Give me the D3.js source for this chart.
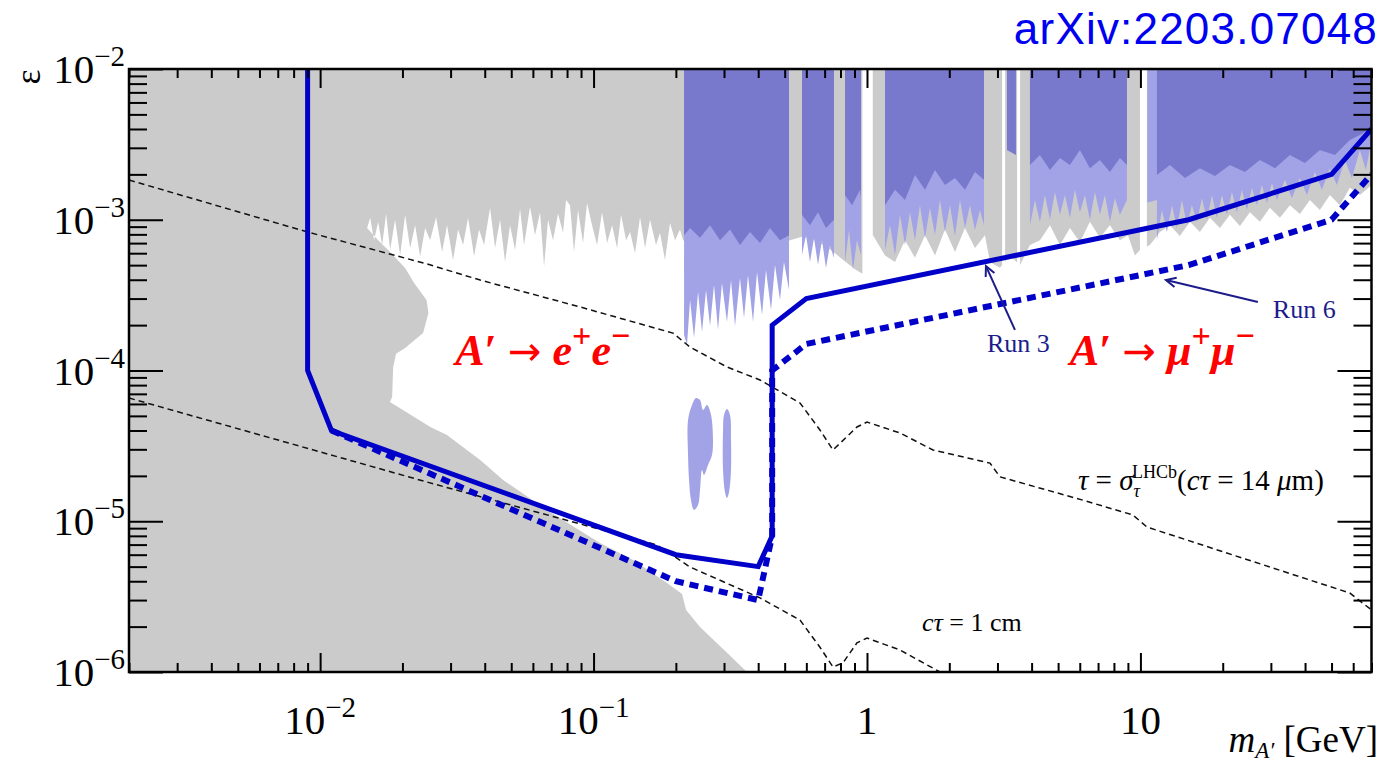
<!DOCTYPE html>
<html>
<head>
<meta charset="utf-8">
<script src="https://cdn.jsdelivr.net/npm/d3@7"></script>
<style>
  html, body { margin: 0; padding: 0; background: #fff; }
  svg { display: block; }
</style>
</head>
<body>
<svg id="chart" width="1385" height="768"></svg>
<script>
// ---------------- data ----------------
const massDomain = [0.002, 70];      // GeV
const epsDomain = [1e-6, 1e-2];

const xMajorTicks = [0.01, 0.1, 1, 10];
const xTickBase = ["10", "10", "1", "10"];
const xTickExp = ["−2", "−1", "", ""];
const yMajorTicks = [1e-2, 1e-3, 1e-4, 1e-5, 1e-6];
const yTickExp = ["−2", "−3", "−4", "−5", "−6"];

// Upper edge of the still-allowed region (below it: unexcluded), left to right
const grayEdge = [
  [0.01485,8.8e-4],[0.01524,1.03e-3],[0.01575,7.3e-4],[0.0163,9.7e-4],[0.01686,6.8e-4],
  [0.01743,1.1e-3],[0.01803,6.3e-4],[0.0188,1.0e-3],[0.01962,5.8e-4],[0.02046,1.08e-3],
  [0.02134,6.5e-4],[0.02226,9.2e-4],[0.02321,5.7e-4],[0.02421,8.8e-4],[0.02525,7.3e-4],
  [0.02655,1.04e-3],[0.02793,6.1e-4],[0.02913,9.2e-4],[0.03063,5.4e-4],[0.03195,8.6e-4],
  [0.03333,6.8e-4],[0.03476,1.03e-3],[0.03656,5.75e-4],[0.03813,8.6e-4],[0.03977,6.8e-4],
  [0.04183,1.2e-3],[0.04363,6.5e-4],[0.0455,1.0e-3],[0.04746,5.25e-4],[0.0495,9.2e-4],
  [0.05164,6.3e-4],[0.05386,1.18e-3],[0.0557,6.8e-4],[0.05858,1.22e-3],[0.0611,7.9e-4],
  [0.06373,1.12e-3],[0.06591,4.9e-4],[0.06816,1.0e-3],[0.07109,7.3e-4],[0.07415,1.1e-3],
  [0.07734,8.2e-4],[0.07932,1.35e-3],[0.08203,1.25e-3],[0.08484,6.1e-4],[0.08774,1.16e-3],
  [0.09152,7.0e-4],[0.09467,1.29e-3],[0.09874,9.2e-4],[0.103,6.8e-4],[0.1074,1.12e-3],
  [0.1121,7.0e-4],[0.1169,9.2e-4],[0.1219,6.5e-4],[0.1261,1.08e-3],[0.1315,7.3e-4],
  [0.136,8.3e-4],[0.1418,6.0e-4],[0.1479,1.04e-3],[0.1543,6.5e-4],[0.1609,1.0e-3],
  [0.1692,6.8e-4],[0.175,8.2e-4],[0.1825,5.4e-4],[0.1904,9.5e-4],[0.1986,7.3e-4],
  [0.2071,8.6e-4],[0.2125,7.3e-4],
  [0.2451,6.8e-4],[0.2901,6.5e-4],[0.3432,7.3e-4],[0.4062,6.3e-4],[0.4806,6.8e-4],
  [0.523,7.3e-4],[0.5785,7.7e-4],
  [0.629,7.45e-4],[0.673,7.0e-4],[0.72,6.5e-4],[0.764,6.0e-4],[0.81,5.5e-4],
  [0.852,5.1e-4],[0.904,4.7e-4],[0.959,4.4e-4],[0.992,4.36e-4],
  [1.052,7.9e-4],[1.164,5.8e-4],[1.266,5.25e-4],[1.377,7.3e-4],[1.498,5.6e-4],
  [1.63,7.9e-4],[1.773,5.8e-4],[1.928,8.6e-4],[2.098,6.1e-4],[2.282,8.8e-4],
  [2.482,6.5e-4],[2.70,7.9e-4],[2.817,5.25e-4],[3.064,4.8e-4],[3.333,5.8e-4],
  [3.625,5.0e-4],[3.945,6.8e-4],[4.291,7.3e-4],[4.668,9.2e-4],[5.077,6.8e-4],
  [5.523,8.8e-4],[6.008,7.1e-4],[6.535,9.7e-4],[7.109,7.6e-4],[7.733,9.2e-4],
  [8.414,7.3e-4],[9.0,7.9e-4],[9.55,5.8e-4],[9.96,6.3e-4],[10.83,6.8e-4],
  [11.79,8.3e-4],[12.82,9.2e-4],[13.94,7.8e-4],[15.17,9.7e-4],[16.5,8.3e-4],
  [17.95,1.03e-3],[19.53,8.8e-4],[21.24,1.08e-3],[23.11,9.1e-4],[25.14,1.12e-3],
  [27.35,9.7e-4],[29.75,1.2e-3],[32.37,1.03e-3],[35.21,1.25e-3],[38.3,1.09e-3],
  [41.66,1.35e-3],[45.33,1.16e-3],[49.31,1.46e-3],[53.63,1.25e-3],[58.34,1.63e-3],
  [63.48,1.46e-3],[70,1.7e-3]
];

// Beam-dump exclusion boundary, from the bottom axis up to the top edge
const beamDumpEdge = [
  [0.3641,1e-6],[0.3076,1.34e-6],[0.2451,1.99e-6],[0.218,2.58e-6],[0.2107,3.29e-6],
  [0.1857,3.9e-6],[0.1395,5.53e-6],[0.1056,7.17e-6],[0.0693,1.15e-5],[0.0467,1.88e-5],
  [0.0385,2.55e-5],[0.0291,3.73e-5],[0.0253,4.22e-5],[0.018,6.18e-5],[0.01834,6.67e-5],
  [0.0185,1.055e-4],[0.01896,1.29e-4],[0.02046,1.41e-4],[0.0238,1.77e-4],[0.0249,2.41e-4],
  [0.0245,2.94e-4],[0.02207,3.8e-4],[0.02046,4.78e-4],[0.01803,6.1e-4],[0.0163,7.3e-4]
];

// Narrow unexcluded mass windows: [mass from, mass to, lowest epsilon]
const whiteGaps = [[0.962, 1.05, 4.0e-4], [3.12, 3.2, 4.5e-4], [3.54, 3.63, 4.5e-4], [9.96, 10.56, 5.5e-4]];

// LHCb dark-photon limits (fluctuating lower edge), light and dark shades
const purpleLightEdge = [
  [0.2143,1e-2],[0.2143,1.72e-4],[0.2197,1.48e-4],[0.2254,2.94e-4],[0.2331,1.64e-4],
  [0.2411,3.32e-4],[0.2493,1.8e-4],[0.2578,3.42e-4],[0.2667,1.97e-4],[0.2757,3.69e-4],
  [0.2852,1.86e-4],[0.2949,3.8e-4],[0.3076,2.1e-4],[0.3182,3.98e-4],[0.3291,1.97e-4],
  [0.3432,4.11e-4],[0.355,2.23e-4],[0.3672,4.3e-4],[0.383,2.1e-4],[0.3961,4.5e-4],
  [0.4131,2.33e-4],[0.4272,4.64e-4],[0.4457,2.52e-4],[0.4609,5.01e-4],[0.4806,2.94e-4],
  [0.497,5.25e-4],[0.5186,3.42e-4],[0.5186,1e-2],
  [0.5785,1e-2],[0.5785,5.83e-4],[0.5984,7.92e-4],[0.6187,5.25e-4],[0.6401,7.57e-4],
  [0.662,5.01e-4],[0.6846,7.34e-4],[0.708,4.78e-4],[0.7323,6.8e-4],[0.757,5.57e-4],[0.757,1e-2],
  [0.8309,1e-2],[0.8309,5.25e-4],[0.8594,8.55e-4],[0.8888,4.64e-4],[0.919,7.34e-4],
  [0.9508,5.83e-4],[0.9508,1e-2],
  [1.164,1e-2],[1.164,6.3e-4],[1.214,9.23e-4],[1.266,5.83e-4],[1.32,1.08e-3],[1.377,6.8e-4],
  [1.436,1.12e-3],[1.498,7.34e-4],[1.562,1.25e-3],[1.63,7.57e-4],[1.699,1.2e-3],
  [1.773,7.92e-4],[1.849,1.35e-3],[1.928,8.29e-4],[2.011,1.25e-3],[2.098,7.8e-4],
  [2.188,1.35e-3],[2.282,8.81e-4],[2.38,1.25e-3],[2.482,8.55e-4],[2.589,1.16e-3],
  [2.678,9.23e-4],[2.678,1e-2],
  [3.945,1e-2],[3.945,9.23e-4],[4.114,1.35e-3],[4.291,9.66e-4],[4.475,1.46e-3],
  [4.668,1.0e-3],[4.868,1.53e-3],[5.077,1.08e-3],[5.296,1.46e-3],[5.523,1.03e-3],
  [5.761,1.58e-3],[6.008,1.12e-3],[6.267,1.46e-3],[6.535,1.0e-3],[6.817,1.53e-3],
  [7.109,1.08e-3],[7.416,1.46e-3],[7.733,9.66e-4],[8.067,1.39e-3],[8.414,1.08e-3],
  [8.925,1.35e-3],[8.925,1e-2],
  [10.6,1e-2],[10.6,1.3e-3],[11.49,1.35e-3],[11.49,7.34e-4],[11.98,1.16e-3],[12.5,8.29e-4],
  [13.04,1.25e-3],[13.6,8.81e-4],[14.18,1.35e-3],[14.79,9.23e-4],[15.43,1.25e-3],
  [16.09,9.66e-4],[16.79,1.39e-3],[17.51,1.0e-3],[18.26,1.46e-3],[19.05,1.03e-3],
  [19.86,1.46e-3],[20.72,1.08e-3],[21.61,1.53e-3],[22.54,1.12e-3],[23.5,1.58e-3],
  [24.51,1.16e-3],[25.57,1.63e-3],[26.67,1.25e-3],[27.81,1.7e-3],[29.01,1.29e-3],
  [30.26,1.75e-3],[31.56,1.35e-3],[33.76,1.84e-3],[35.8,1.39e-3],[38.3,1.89e-3],
  [40.63,1.46e-3],[43.45,2.07e-3],[46.09,1.58e-3],[49.31,2.2e-3],[52.3,1.7e-3],
  [55.94,2.49e-3],[59.34,1.89e-3],[63.48,2.9e-3],[66.77,2.14e-3],[70,3.38e-3],[70,1e-2]
];

const purpleDarkEdge = [
  [0.2143,1e-2],[0.2143,7.9e-4],[0.2254,8.8e-4],[0.2451,7.6e-4],[0.2667,9.2e-4],
  [0.2901,7.3e-4],[0.3155,8.6e-4],[0.3432,6.8e-4],[0.3734,8.3e-4],[0.4062,7.0e-4],
  [0.4418,8.8e-4],[0.4806,7.3e-4],[0.5186,7.9e-4],[0.5186,1e-2],
  [0.5785,1e-2],[0.5785,1.08e-3],[0.6187,9.2e-4],[0.662,1.12e-3],[0.708,8.8e-4],
  [0.757,1.0e-3],[0.757,1e-2],
  [0.8309,1e-2],[0.8309,1.46e-3],[0.882,1.25e-3],[0.943,1.58e-3],[0.9508,1.4e-3],[0.9508,1e-2],
  [1.164,1e-2],[1.164,1.25e-3],[1.266,1.58e-3],[1.377,1.35e-3],[1.498,1.98e-3],
  [1.63,1.58e-3],[1.773,2.14e-3],[1.928,1.7e-3],[2.098,1.89e-3],[2.282,1.58e-3],
  [2.482,2.07e-3],[2.678,1.84e-3],[2.678,1e-2],
  [3.25,1e-2],[3.25,2.9e-3],[3.506,2.69e-3],[3.506,1e-2],
  [3.945,1e-2],[3.945,2.31e-3],[4.291,2.69e-3],[4.668,2.14e-3],[5.077,2.57e-3],
  [5.523,2.31e-3],[6.008,2.9e-3],[6.535,2.2e-3],[7.109,2.49e-3],[7.733,2.07e-3],
  [8.414,2.57e-3],[8.925,2.31e-3],[8.925,1e-2],
  [11.49,1e-2],[11.49,1.98e-3],[12.82,2.31e-3],[14.55,1.89e-3],[16.5,2.2e-3],
  [18.73,1.95e-3],[21.24,2.31e-3],[24.11,2.07e-3],[27.35,2.49e-3],[31.03,2.2e-3],
  [35.21,2.69e-3],[39.95,2.38e-3],[45.33,2.9e-3],[51.42,2.69e-3],[58.34,3.38e-3],
  [63.48,3.65e-3],[70,4.06e-3],[70,1e-2]
];

// Isolated LHCb excluded islands
const islandA = [
  [0.2216,4.69e-5],[0.2291,5.9e-5],[0.237,6.57e-5],[0.2451,6.37e-5],[0.2514,5.47e-5],
  [0.26,5.9e-5],[0.2689,5.07e-5],[0.2734,3.46e-5],[0.2711,2.75e-5],[0.2622,2.36e-5],
  [0.2535,2.03e-5],[0.2492,2.19e-5],[0.2451,1.61e-5],[0.241,1.28e-5],[0.233,1.19e-5],
  [0.2272,1.38e-5],[0.2235,1.88e-5],[0.2216,2.75e-5]
];
const islandB = [
  [0.2976,4.03e-5],[0.3,5.07e-5],[0.3076,5.55e-5],[0.3155,5.07e-5],[0.3182,3.46e-5],
  [0.3182,2.19e-5],[0.3129,1.56e-5],[0.3076,1.43e-5],[0.3026,1.56e-5],[0.2976,2.19e-5]
];

// Projected reach
const run3Mass = [0.009, 0.009, 0.011, 0.2, 0.4, 0.45, 0.45, 0.6, 15, 50, 70];
const run3Eps  = [1e-2, 1e-4, 4e-5, 6e-6, 5e-6, 8e-6, 2e-4, 3e-4, 1e-3, 2e-3, 4e-3];
const run6Mass = [0.011, 0.2, 0.4, 0.45, 0.45, 0.6, 15, 50, 70];
const run6Eps  = [4e-5, 4e-6, 3e-6, 8e-6, 1e-4, 1.5e-4, 5e-4, 1e-3, 2e-3];

// Lifetime contours
const tau14umMass = [0.002,0.009,0.0246,0.0385,0.0892,0.1953,0.2254,0.3076,0.4062,0.5689,0.673,0.751,0.919,1.0,1.32,1.743,2.817,3.064,6.16,9.39,10.56,58.34,70];
const tau14umEps  = [1.835e-3,8.29e-4,5.09e-4,3.98e-4,2.64e-4,1.77e-4,1.43e-4,1.055e-4,8.65e-5,6.09e-5,4.03e-5,2.97e-5,4.22e-5,4.55e-5,3.85e-5,2.97e-5,2.43e-5,1.97e-5,1.38e-5,1.1e-5,9.16e-6,3.34e-6,2.58e-6];
const tau1cmMass = [0.002,0.0246,0.1707,0.2254,0.4062,0.5689,0.673,0.751,0.817,0.919,1.0,1.32,1.849];
const tau1cmEps  = [6.57e-5,1.82e-5,6.96e-6,4.97e-6,3.1e-6,2.21e-6,1.46e-6,1.08e-6,1.15e-6,1.56e-6,1.68e-6,1.4e-6,1e-6];

// ---------------- layout ----------------
const plot = { left: 129, right: 1371.5, top: 69, bottom: 672 };
const colors = {
  gray: "#cbcbcb",
  purpleDark: "#7878cd",
  purpleLight: "#a2a2e6",
  blue: "#0000c8",
  navy: "#1c1c8c",
  red: "#ff0000"
};

const svg = d3.select("#chart");
const x = d3.scaleLog().domain(massDomain).range([plot.left, plot.right]);
const y = d3.scaleLog().domain(epsDomain).range([plot.bottom, plot.top]);

svg.append("rect").attr("width", 1385).attr("height", 768).attr("fill", "#fff");

svg.append("clipPath").attr("id", "plot-clip")
  .append("rect")
  .attr("x", plot.left).attr("y", plot.top)
  .attr("width", plot.right - plot.left).attr("height", plot.bottom - plot.top);

const g = svg.append("g").attr("clip-path", "url(#plot-clip)");
const line = d3.line().x(d => x(d[0])).y(d => y(d[1]));
const zip = (ms, es) => ms.map((m, i) => [m, es[i]]);

// excluded by previous searches: everything gray first
g.append("rect")
  .attr("x", plot.left).attr("y", plot.top)
  .attr("width", plot.right - plot.left).attr("height", plot.bottom - plot.top)
  .attr("fill", colors.gray);

// allowed region
const allowed = [...grayEdge, [massDomain[1], epsDomain[0]], ...beamDumpEdge];
g.append("path").attr("d", line(allowed) + "Z").attr("fill", "#fff");

// narrow allowed windows reaching the top
g.selectAll("rect.gap").data(whiteGaps).join("rect")
  .attr("class", "gap")
  .attr("x", d => x(d[0])).attr("width", d => x(d[1]) - x(d[0]))
  .attr("y", plot.top).attr("height", d => y(d[2]) - plot.top)
  .attr("fill", "#fff");

// LHCb limits
g.append("path").attr("d", line(purpleLightEdge) + "Z").attr("fill", colors.purpleLight);
g.append("path").attr("d", line(purpleDarkEdge) + "Z").attr("fill", colors.purpleDark);

const blob = d3.line().x(d => x(d[0])).y(d => y(d[1])).curve(d3.curveCatmullRomClosed);
g.append("path").attr("d", blob(islandA)).attr("fill", colors.purpleLight);
g.append("path").attr("d", blob(islandB)).attr("fill", colors.purpleLight);

// lifetime contours
[zip(tau14umMass, tau14umEps), zip(tau1cmMass, tau1cmEps)].forEach(pts => {
  g.append("path").attr("d", line(pts))
    .attr("fill", "none").attr("stroke", "#111").attr("stroke-width", 1.5)
    .attr("stroke-dasharray", "6,4");
});

// projections
g.append("path").attr("d", line(zip(run6Mass, run6Eps)))
  .attr("fill", "none").attr("stroke", colors.blue).attr("stroke-width", 6)
  .attr("stroke-dasharray", "9,6");
g.append("path").attr("d", line(zip(run3Mass, run3Eps)))
  .attr("fill", "none").attr("stroke", colors.blue).attr("stroke-width", 5)
  .attr("stroke-linejoin", "miter");

// ---------------- axes ----------------
const isMajor = v => Math.abs(Math.log10(v) - Math.round(Math.log10(v))) < 1e-9;
const xMinor = x.ticks().filter(v => !isMajor(v));
const yMinor = y.ticks().filter(v => !isMajor(v));

function tickAxis(axisFn, scale, values, size, transform) {
  const a = svg.append("g").attr("transform", transform)
    .call(axisFn(scale).tickValues(values).tickSize(-size).tickFormat(""));
  a.select(".domain").remove();
  a.selectAll("line").attr("stroke", "#000").attr("stroke-width", 2);
}
tickAxis(d3.axisBottom, x, xMinor, 9, `translate(0,${plot.bottom})`);
tickAxis(d3.axisBottom, x, xMajorTicks, 19, `translate(0,${plot.bottom})`);
tickAxis(d3.axisTop, x, xMinor, 9, `translate(0,${plot.top})`);
tickAxis(d3.axisTop, x, xMajorTicks, 19, `translate(0,${plot.top})`);
tickAxis(d3.axisLeft, y, yMinor, 18, `translate(${plot.left},0)`);
tickAxis(d3.axisLeft, y, yMajorTicks, 34, `translate(${plot.left},0)`);
tickAxis(d3.axisRight, y, yMinor, 18, `translate(${plot.right},0)`);
tickAxis(d3.axisRight, y, yMajorTicks, 34, `translate(${plot.right},0)`);

svg.append("rect")
  .attr("x", plot.left).attr("y", plot.top)
  .attr("width", plot.right - plot.left).attr("height", plot.bottom - plot.top)
  .attr("fill", "none").attr("stroke", "#000").attr("stroke-width", 2.5);

const serif = "'Liberation Serif', 'Times New Roman', serif";

// x tick labels
xMajorTicks.forEach((v, i) => {
  const t = svg.append("text")
    .attr("x", x(v)).attr("y", 734)
    .attr("text-anchor", "middle")
    .attr("font-family", serif).attr("font-size", 41).attr("fill", "#000");
  t.append("tspan").text(xTickBase[i]);
  if (xTickExp[i]) t.append("tspan").attr("dy", -17).attr("font-size", 29).text(xTickExp[i]);
});

// y tick labels
yMajorTicks.forEach((v, i) => {
  const t = svg.append("text")
    .attr("x", 125).attr("y", y(v) + 14)
    .attr("text-anchor", "end")
    .attr("font-family", serif).attr("font-size", 41).attr("fill", "#000");
  t.append("tspan").text("10");
  t.append("tspan").attr("dy", -17).attr("font-size", 29).text(yTickExp[i]);
});

// axis titles
svg.append("text")
  .attr("transform", "translate(40,77) rotate(-90)")
  .attr("text-anchor", "middle")
  .attr("font-family", serif).attr("font-size", 36).text("ε");

const xt = svg.append("text")
  .attr("x", 1378).attr("y", 752).attr("text-anchor", "end")
  .attr("font-family", serif).attr("font-size", 37);
xt.append("tspan").attr("font-style", "italic").text("m");
xt.append("tspan").attr("font-style", "italic").attr("font-size", 23).attr("dy", 6).text("A′");
xt.append("tspan").attr("dy", -6).text(" [GeV]");

// reference tag
svg.append("text")
  .attr("x", 1378).attr("y", 44).attr("text-anchor", "end")
  .attr("font-family", "'Liberation Sans', Arial, sans-serif").attr("font-size", 44)
  .attr("letter-spacing", 1.2)
  .attr("fill", "#0000f0").text("arXiv:2203.07048");

// ---------------- annotations ----------------
function decayLabel(m, e, particle) {
  const t = svg.append("text")
    .attr("x", x(m)).attr("y", y(e))
    .attr("font-family", serif).attr("font-size", 44)
    .attr("fill", colors.red).attr("font-weight", "bold");
  t.append("tspan").attr("font-style", "italic").text("A");
  t.append("tspan").text("′ ");
  t.append("tspan").attr("font-family", "'DejaVu Sans', sans-serif").attr("font-weight", "normal")
    .attr("font-size", 40).text("→");
  t.append("tspan").text(" ");
  t.append("tspan").attr("font-style", "italic").text(particle);
  t.append("tspan").attr("dy", -18).attr("font-size", 34).text("+");
  t.append("tspan").attr("dy", 18).attr("font-style", "italic").text(particle);
  t.append("tspan").attr("dy", -18).attr("font-size", 34).text("−");
}
decayLabel(0.0312, 1.09e-4, "e");
decayLabel(5.52, 1.09e-4, "μ");

function arrow(from, to, label, labelPos) {
  const x0 = x(from[0]), y0 = y(from[1]), x1 = x(to[0]), y1 = y(to[1]);
  const ang = Math.atan2(y1 - y0, x1 - x0);
  const L = 11, spread = 0.45;
  svg.append("line").attr("x1", x0).attr("y1", y0).attr("x2", x1).attr("y2", y1)
    .attr("stroke", colors.navy).attr("stroke-width", 2);
  svg.append("path")
    .attr("d", `M${x1 - L * Math.cos(ang - spread)},${y1 - L * Math.sin(ang - spread)}L${x1},${y1}L${x1 - L * Math.cos(ang + spread)},${y1 - L * Math.sin(ang + spread)}`)
    .attr("fill", "none").attr("stroke", colors.navy).attr("stroke-width", 2);
  svg.append("text").attr("x", x(labelPos[0])).attr("y", y(labelPos[1]))
    .attr("font-family", serif).attr("font-size", 26).attr("fill", colors.navy).text(label);
}
arrow([3.476, 1.86e-4], [2.723, 4.93e-4], "Run 3", [2.746, 1.33e-4]);
arrow([26.89, 2.85e-4], [12.4, 3.98e-4], "Run 6", [30.5, 2.23e-4]);

// lifetime labels
const tl = svg.append("text").attr("x", x(5.91)).attr("y", y(1.61e-5))
  .attr("font-family", serif).attr("font-size", 29).attr("fill", "#000");
tl.append("tspan").attr("font-style", "italic").text("τ");
tl.append("tspan").text(" = ");
tl.append("tspan").attr("font-style", "italic").text("σ");
tl.append("tspan").attr("font-style", "italic").attr("font-size", 18).attr("dy", 7).text("τ");
tl.append("tspan").attr("font-size", 18).attr("dy", -19).attr("dx", -8).text("LHCb");
tl.append("tspan").attr("dy", 12).text("(");
tl.append("tspan").attr("font-style", "italic").text("cτ");
tl.append("tspan").text(" = 14 ");
tl.append("tspan").attr("font-style", "italic").text("μ");
tl.append("tspan").text("m)");

const cl = svg.append("text").attr("x", x(1.589)).attr("y", y(1.87e-6))
  .attr("font-family", serif).attr("font-size", 26).attr("fill", "#000");
cl.append("tspan").attr("font-style", "italic").text("cτ");
cl.append("tspan").text(" = 1 cm");
</script>
</body>
</html>
